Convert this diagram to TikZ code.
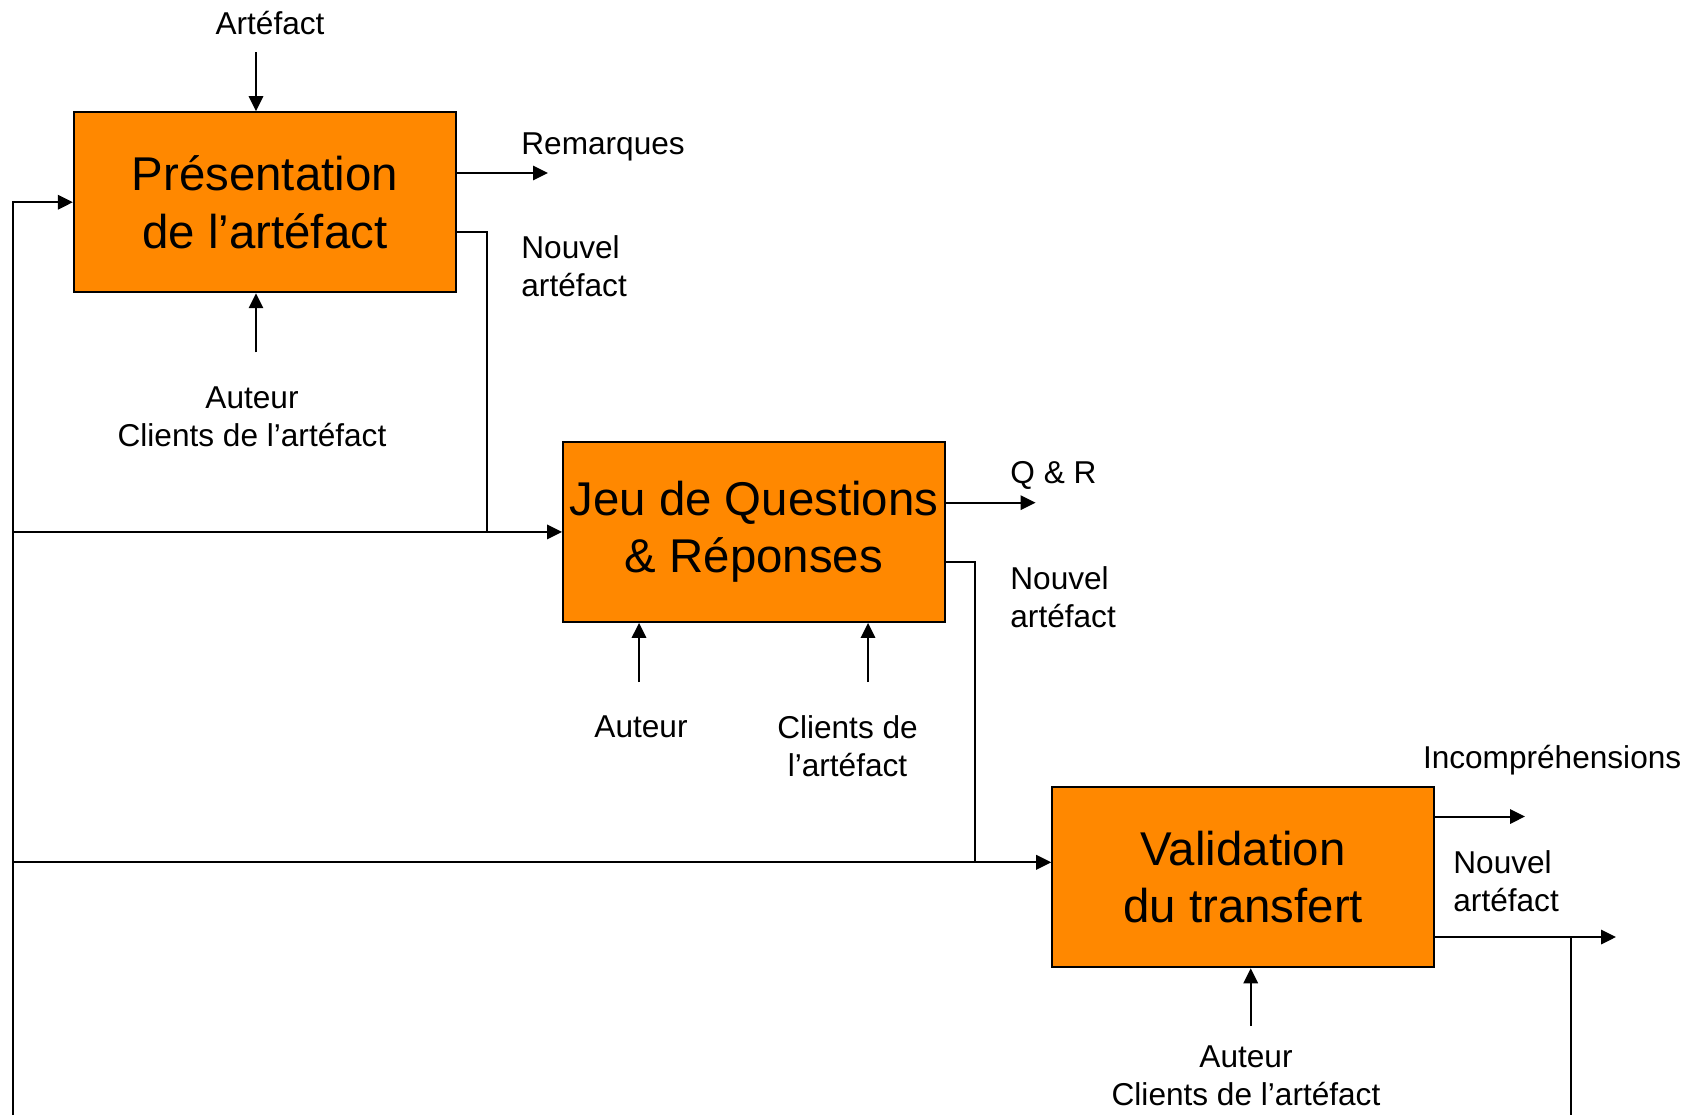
\documentclass[tikz,border=0pt]{standalone}
\usepackage{fontspec}
\setmainfont{Liberation Sans}
\usetikzlibrary{arrows.meta}
\definecolor{boxorange}{RGB}{255,136,0}
\tikzset{
  procbox/.style={draw, line width=1pt, fill=boxorange, minimum width=191pt, minimum height=90pt, inner sep=0pt, align=center, font=\fontsize{23.7}{28.6}\selectfont},
  lbl/.style={inner sep=0pt, font=\fontsize{15.8}{18.9}\selectfont},
  link/.style={line width=1pt},
  flow/.style={link, -{Triangle[length=7.5pt,width=7.2pt]}},
}

\begin{document}
\begin{tikzpicture}[x=0.5pt, y=-0.5pt]
	\useasboundingbox (0,0) rectangle (1695,1115);

	\node[procbox] (pres) at (264.9,202.2) {Présentation\\de l’artéfact};
	\node[procbox] (jeu) at (754,531.9) {Jeu de Questions\\\& Réponses};
	\node[procbox] (valid) at (1243.2,877.3) {Validation\\du transfert};

	\node[lbl, anchor=base] (artin) at (270,34) {Artéfact};
	\node[lbl, anchor=base west] (rem) at (521,154) {Remarques};
	\node[lbl, anchor=west, align=left] (nouv1) at (521,266.5) {Nouvel\\artéfact};
	\node[lbl, align=center] (res1) at (252,416.7) {Auteur\\Clients de l’artéfact};
	\node[lbl, anchor=base west] (qr) at (1010,483.4) {Q \& R};
	\node[lbl, anchor=west, align=left] (nouv2) at (1010,597) {Nouvel\\artéfact};
	\node[lbl, anchor=base] (aut2) at (641,737.4) {Auteur};
	\node[lbl, align=center] (cli2) at (847.5,745.9) {Clients de\\l’artéfact};
	\node[lbl, anchor=base west] (incomp) at (1422.6,768.8) {Incompréhensions};
	\node[lbl, anchor=west, align=left] (nouv3) at (1453,881.5) {Nouvel\\artéfact};
	\node[lbl, align=center] (res3) at (1246,1075.6) {Auteur\\Clients de l’artéfact};

	\coordinate (pres-in) at (256,52);
	\coordinate (pres-res) at (256,352.4);
	\coordinate (rem-end) at (548,173);
	\coordinate (nouv1-turn) at (486.5,232.4);
	\coordinate (loop) at (13,1115);
	\coordinate (qr-end) at (1035.6,502.7);
	\coordinate (nouv2-turn) at (975,562);
	\coordinate (aut2-in) at (639,682);
	\coordinate (cli2-in) at (868,682);
	\coordinate (valid-in) at ([yshift=7.5pt]valid.west);
	\coordinate (incomp-end) at (1525,816.5);
	\coordinate (nouv3-end) at (1616,937);
	\coordinate (nouv3-turn) at (1571,937);
	\coordinate (nouv3-down) at (1571,1115);
	\coordinate (res3-in) at (1250.7,1026);

	\draw[flow] (pres-in) -- (pres-in |- pres.north);
	\draw[flow] (pres-res) -- (pres-res |- pres.south);
	\draw[flow] (rem-end -| pres.east) -- (rem-end);
	\draw[link] (nouv1-turn -| pres.east) -| (nouv1-turn |- jeu.west);
	\draw[flow] (loop) |- (pres.west);
	\draw[flow] (loop |- jeu.west) -- (jeu.west);
	\draw[flow] (qr-end -| jeu.east) -- (qr-end);
	\draw[link] (nouv2-turn -| jeu.east) -| (nouv2-turn |- valid-in);
	\draw[flow] (aut2-in) -- (aut2-in |- jeu.south);
	\draw[flow] (cli2-in) -- (cli2-in |- jeu.south);
	\draw[flow] (loop |- valid-in) -- (valid-in);
	\draw[flow] (incomp-end -| valid.east) -- (incomp-end);
	\draw[flow] (nouv3-end -| valid.east) -- (nouv3-end);
	\draw[link] (nouv3-turn) -- (nouv3-down);
	\draw[flow] (res3-in) -- (res3-in |- valid.south);
\end{tikzpicture}
\end{document}
